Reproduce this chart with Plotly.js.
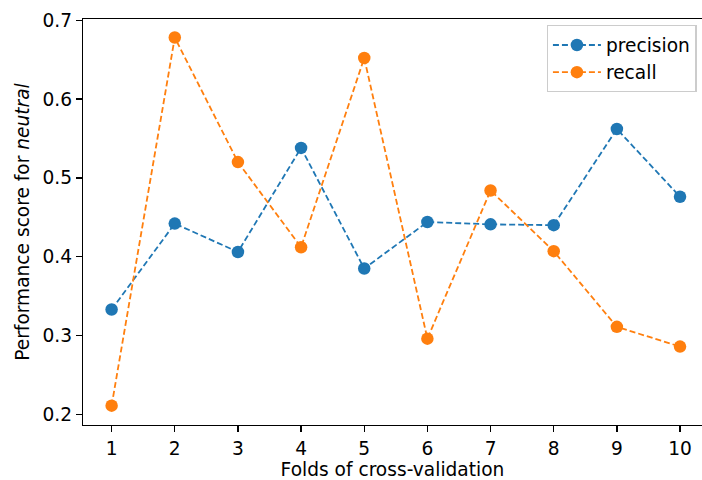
<!DOCTYPE html>
<html>
<head>
<meta charset="utf-8">
<script src="https://cdn.plot.ly/plotly-3.0.1.min.js"></script>
<style>html,body{margin:0;padding:0;background:#fff;}#chart{width:702px;height:480px;}</style>
</head>
<body>
<div id="chart"></div>
<script>
const folds = [1, 2, 3, 4, 5, 6, 7, 8, 9, 10];
const precision = [0.333, 0.442, 0.406, 0.538, 0.385, 0.444, 0.441, 0.440, 0.562, 0.476];
const recall = [0.211, 0.678, 0.520, 0.412, 0.652, 0.296, 0.484, 0.407, 0.311, 0.286];
const yTicks = [0.2, 0.3, 0.4, 0.5, 0.6, 0.7];

const FONT = 'DejaVu Sans, sans-serif';
const FS = 18.6;
function series(name, y, color) {
  return {
    x: folds, y: y, name: name, type: 'scatter', mode: 'lines+markers',
    line: {color: color, width: 1.8, dash: '6px,3px'},
    marker: {color: color, size: 12.5, line: {width: 0}}
  };
}
const data = [
  series('precision', precision, '#1f77b4'),
  series('recall', recall, '#ff7f0e')
];
const layout = {
  width: 702, height: 480,
  margin: {l: 83, r: 0, t: 19, b: 55},
  paper_bgcolor: '#fff', plot_bgcolor: '#fff',
  font: {family: FONT, size: FS, color: '#000'},
  showlegend: true,
  legend: {
    x: 0.749, y: 0.985, xanchor: 'left', yanchor: 'top',
    bgcolor: 'rgba(255,255,255,0.8)', bordercolor: '#cccccc', borderwidth: 1.3,
    font: {family: FONT, size: FS, color: '#000'},
    itemwidth: 48
  },
  xaxis: {
    range: [0.547, 10.348], tickvals: folds, ticktext: folds.map(String),
    showgrid: false, zeroline: false,
    showline: true, linecolor: '#000', linewidth: 1.3, mirror: true,
    ticks: 'outside', ticklen: 6, tickwidth: 1.3, tickcolor: '#000',
    tickfont: {family: FONT, size: FS, color: '#000'},
    title: {text: 'Folds of cross-validation', font: {family: FONT, size: FS, color: '#000'}, standoff: 4}
  },
  yaxis: {
    range: [0.1865, 0.7015], tickvals: yTicks, ticktext: yTicks.map(v => v.toFixed(1)),
    showgrid: false, zeroline: false,
    showline: true, linecolor: '#000', linewidth: 1.3, mirror: false,
    ticks: 'outside', ticklen: 6, tickwidth: 1.3, tickcolor: '#000',
    tickfont: {family: FONT, size: FS, color: '#000'},
    title: {text: 'Performance score for <i>neutral</i>', font: {family: FONT, size: FS, color: '#000'}, standoff: 8}
  }
};
Plotly.newPlot('chart', data, layout, {displayModeBar: false, staticPlot: true});
</script>
</body>
</html>
